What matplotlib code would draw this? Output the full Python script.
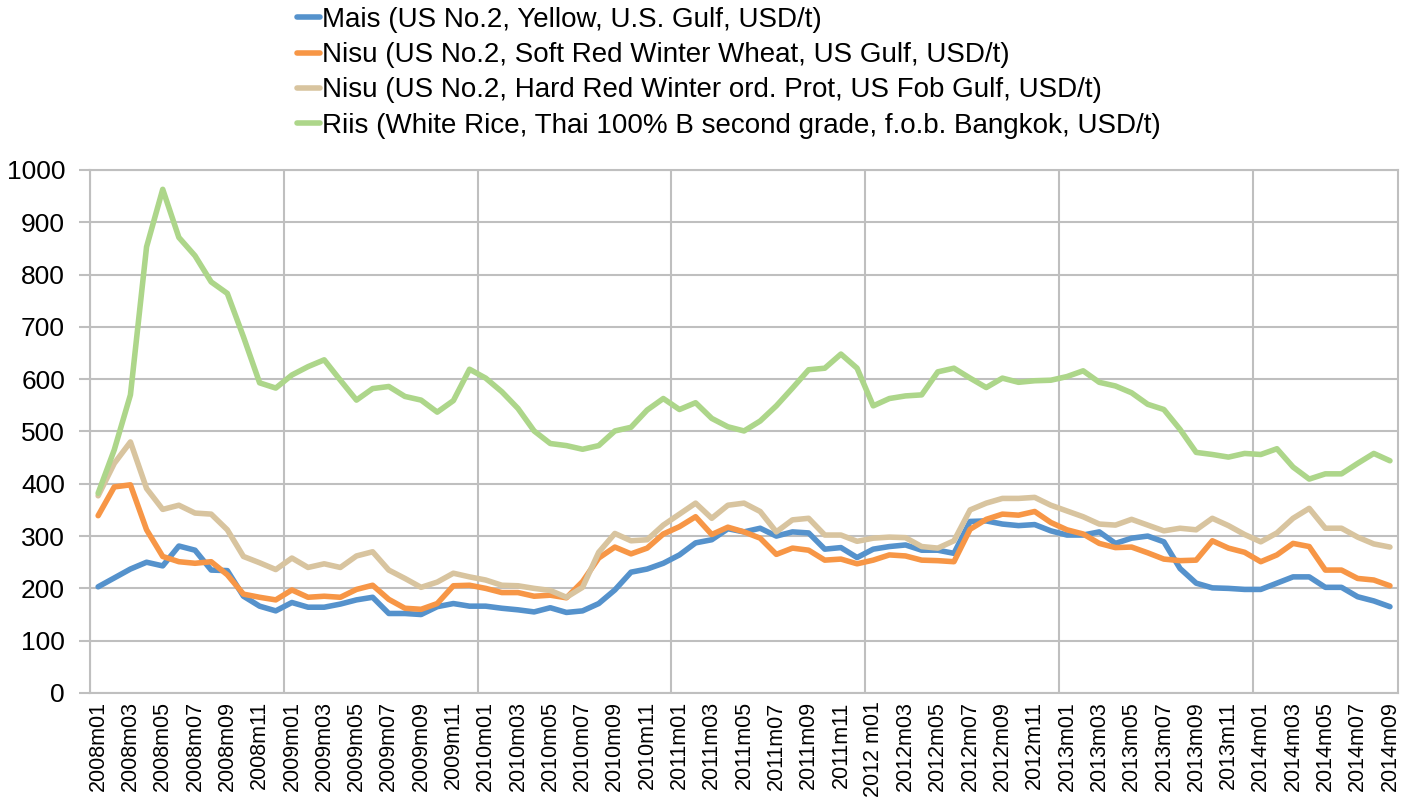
import numpy as np
import matplotlib.pyplot as plt

plt.rcParams['font.family'] = ['Liberation Sans', 'DejaVu Sans']

# kuud 2008m01 .. 2014m09
kuud = []
for a in range(2008, 2015):
    for k in range(1, 13):
        if a == 2014 and k > 9:
            break
        kuud.append(f"{a}m{k:02d}")
sildid = [("2012 m01" if m == "2012m01" else m) for m in kuud]

mais = [203, 220, 237, 250, 243, 281, 273, 235, 234, 185, 166, 157,
        173, 164, 164, 170, 178, 183, 152, 152, 150, 165, 171, 166,
        166, 162, 159, 155, 163, 154, 157, 171, 197, 231, 237, 248,
        264, 287, 293, 314, 308, 315, 300, 308, 306, 275, 278, 259,
        275, 280, 283, 273, 273, 267, 328, 329, 323, 320, 322, 310,
        302, 302, 308, 286, 296, 300, 289, 238, 210, 201, 200, 198,
        198, 210, 222, 222, 202, 202, 184, 176, 165]
nisu_srw = [339, 394, 398, 312, 261, 251, 248, 251, 226, 189, 183, 178,
            197, 183, 185, 183, 198, 206, 179, 162, 160, 171, 205, 206,
            200, 192, 192, 185, 187, 182, 213, 258, 279, 266, 277, 304,
            318, 337, 303, 317, 308, 296, 265, 277, 273, 254, 256, 247,
            254, 264, 262, 254, 253, 251, 313, 332, 342, 340, 347, 326,
            312, 304, 286, 278, 279, 268, 256, 253, 254, 291, 277, 269,
            251, 264, 286, 280, 235, 235, 219, 216, 205]
nisu_hrw = [377, 439, 480, 391, 351, 359, 344, 342, 312, 261, 249, 236,
            258, 240, 247, 240, 262, 270, 235, 219, 202, 212, 229, 222,
            216, 206, 205, 200, 196, 183, 202, 269, 305, 291, 293, 321,
            342, 363, 334, 359, 363, 347, 308, 331, 334, 302, 302, 290,
            296, 298, 297, 280, 277, 291, 350, 363, 372, 372, 374, 359,
            348, 337, 323, 321, 332, 321, 310, 315, 312, 334, 320, 303,
            289, 306, 334, 353, 315, 315, 298, 285, 279]
riis = [382, 465, 570, 853, 963, 871, 836, 786, 764, 681, 593, 583,
        608, 624, 637, 598, 560, 582, 586, 567, 560, 537, 559, 619,
        602, 576, 544, 501, 477, 473, 466, 473, 501, 508, 541, 563,
        542, 555, 525, 509, 501, 520, 549, 583, 618, 621, 648, 621,
        549, 563, 568, 570, 614, 621, 602, 584, 602, 594, 597, 598,
        605, 616, 594, 587, 574, 552, 542, 504, 460, 456, 451, 458,
        456, 467, 432, 409, 419, 419, 439, 458, 444]

nimed = ["Mais (US No.2, Yellow, U.S. Gulf, USD/t)",
         "Nisu (US No.2, Soft Red Winter Wheat, US Gulf, USD/t)",
         "Nisu (US No.2, Hard Red Winter ord. Prot, US Fob Gulf, USD/t)",
         "Riis (White Rice, Thai 100% B second grade, f.o.b. Bangkok, USD/t)"]
varvid = ["#5592CC", "#F79646", "#D8C49F", "#ADD68A"]

fig = plt.figure(figsize=(14.16, 7.98), dpi=100)
ax = fig.add_axes([0.0636, 0.1316, 0.9237, 0.6554])

x = np.arange(len(kuud))
for y, nimi, c in zip([mais, nisu_srw, nisu_hrw, riis], nimed, varvid):
    ax.plot(x, y, color=c, lw=4, label=nimi, solid_capstyle='round',
            solid_joinstyle='round')

ax.set_xlim(-0.5, len(kuud) - 0.5)
ax.set_ylim(0, 1000)
ax.set_yticks(range(0, 1001, 100))
ax.set_xticks(x[::2])
ax.set_xticklabels(sildid[::2], rotation=90, fontsize=15.5)
ax.tick_params(axis='y', labelsize=19, length=8, color='#BFBFBF', width=1.5, pad=10)
ax.tick_params(axis='x', length=0, pad=6)

# ruudustik
ax.grid(axis='y', color='#BFBFBF', lw=1.5)
for v in np.arange(-0.5, len(kuud), 12):
    ax.axvline(v, color='#BFBFBF', lw=1.5, zorder=0.5)
ax.set_axisbelow(True)
for s in ax.spines.values():
    s.set_color('#BFBFBF')
    s.set_linewidth(1.5)

fig.legend(loc='upper left', bbox_to_anchor=(0.2017, 1.005), frameon=False,
           fontsize=20, handlelength=0.85, handletextpad=0.05,
           labelspacing=0.33, borderaxespad=0)

fig.savefig("out.png", dpi=100)
